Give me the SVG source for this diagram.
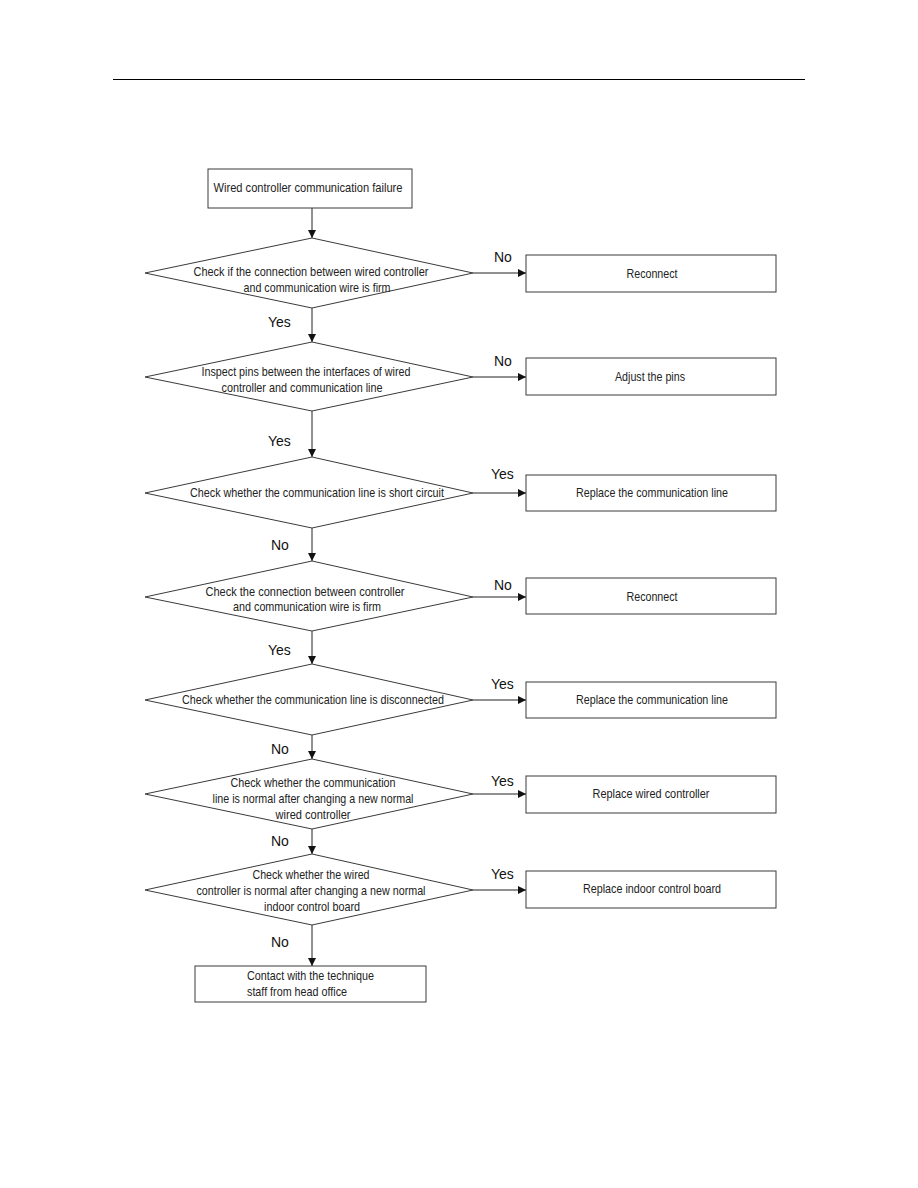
<svg xmlns="http://www.w3.org/2000/svg" width="918" height="1188" viewBox="0 0 918 1188">
<style>
.box{fill:#fff;stroke:#3a3a3a;stroke-width:1}
.dia{fill:#fff;stroke:#3a3a3a;stroke-width:1}
.t{font-family:"Liberation Sans",Arial,sans-serif;font-size:13.5px;fill:#222;text-anchor:middle}
.tl{font-family:"Liberation Sans",Arial,sans-serif;font-size:13.5px;fill:#222}
.lab{font-family:"Liberation Sans",Arial,sans-serif;font-size:14px;fill:#111}
.c{stroke:#222;stroke-width:1;fill:none;marker-end:url(#ah)}
</style>
<defs>
<marker id="ah" viewBox="0 0 10 10" refX="10" refY="5" markerWidth="9" markerHeight="8" markerUnits="userSpaceOnUse" orient="auto">
<path d="M0,0 L10,5 L0,10 z" fill="#111"/>
</marker>
</defs>
<rect width="918" height="1188" fill="#fff"/>
<line x1="113" y1="79.5" x2="805" y2="79.5" stroke="#000" stroke-width="1.2"/>

<g id="connectors">
<line class="c" x1="312" y1="208" x2="312" y2="238"/>
<line class="c" x1="473" y1="273" x2="526" y2="273"/>
<line class="c" x1="312" y1="308" x2="312" y2="342"/>
<line class="c" x1="473" y1="377" x2="526" y2="377"/>
<line class="c" x1="312" y1="411" x2="312" y2="457"/>
<line class="c" x1="473" y1="493" x2="526" y2="493"/>
<line class="c" x1="312" y1="528" x2="312" y2="561"/>
<line class="c" x1="473" y1="597" x2="526" y2="597"/>
<line class="c" x1="312" y1="631" x2="312" y2="664"/>
<line class="c" x1="473" y1="700" x2="526" y2="700"/>
<line class="c" x1="312" y1="735" x2="312" y2="759"/>
<line class="c" x1="473" y1="794" x2="526" y2="794"/>
<line class="c" x1="312" y1="829" x2="312" y2="854"/>
<line class="c" x1="473" y1="890" x2="526" y2="890"/>
<line class="c" x1="312" y1="925" x2="312" y2="966"/>
<text class="lab" x="494" y="262">No</text>
<text class="lab" x="268" y="327">Yes</text>
<text class="lab" x="494" y="366">No</text>
<text class="lab" x="268" y="446">Yes</text>
<text class="lab" x="491" y="479">Yes</text>
<text class="lab" x="271" y="550">No</text>
<text class="lab" x="494" y="590">No</text>
<text class="lab" x="268" y="655">Yes</text>
<text class="lab" x="491" y="689">Yes</text>
<text class="lab" x="271" y="754">No</text>
<text class="lab" x="491" y="786">Yes</text>
<text class="lab" x="271" y="846">No</text>
<text class="lab" x="491" y="879">Yes</text>
<text class="lab" x="271" y="947">No</text>
</g>

<g id="start">
<rect class="box" x="208" y="169" width="204" height="39"/>
<text class="t" x="308" y="192" textLength="189" lengthAdjust="spacingAndGlyphs">Wired  controller  communication failure</text>
</g>

<g id="d1">
<polygon class="dia" points="145,273 312,238 473,273 312,308"/>
<text class="t" x="311" y="276" textLength="235" lengthAdjust="spacingAndGlyphs">Check  if the connection between wired controller</text>
<text class="t" x="317" y="292" textLength="147" lengthAdjust="spacingAndGlyphs">and communication wire is firm</text>
</g>
<g id="r1">
<rect class="box" x="526" y="255" width="250" height="37"/>
<text class="t" x="652" y="278" textLength="51" lengthAdjust="spacingAndGlyphs">Reconnect</text>
</g>

<g id="d2">
<polygon class="dia" points="145,377 312,342 473,377 312,411"/>
<text class="t" x="306" y="376" textLength="209" lengthAdjust="spacingAndGlyphs">Inspect pins between the interfaces of wired</text>
<text class="t" x="302" y="392" textLength="161" lengthAdjust="spacingAndGlyphs">controller and communication line</text>
</g>
<g id="r2">
<rect class="box" x="526" y="358" width="250" height="37"/>
<text class="t" x="650" y="381" textLength="70" lengthAdjust="spacingAndGlyphs">Adjust the pins</text>
</g>

<g id="d3">
<polygon class="dia" points="145,493 312,457 473,493 312,528"/>
<text class="t" x="317" y="497" textLength="254" lengthAdjust="spacingAndGlyphs">Check whether the communication line is short circuit</text>
</g>
<g id="r3">
<rect class="box" x="526" y="475" width="250" height="36"/>
<text class="t" x="652" y="497" textLength="152" lengthAdjust="spacingAndGlyphs">Replace the communication line</text>
</g>

<g id="d4">
<polygon class="dia" points="145,597 312,561 473,597 312,631"/>
<text class="t" x="305" y="596" textLength="199" lengthAdjust="spacingAndGlyphs">Check  the connection between controller</text>
<text class="t" x="307" y="611" textLength="148" lengthAdjust="spacingAndGlyphs">and communication wire is firm</text>
</g>
<g id="r4">
<rect class="box" x="526" y="578" width="250" height="36"/>
<text class="t" x="652" y="601" textLength="51" lengthAdjust="spacingAndGlyphs">Reconnect</text>
</g>

<g id="d5">
<polygon class="dia" points="145,700 312,664 473,700 312,735"/>
<text class="t" x="313" y="704" textLength="262" lengthAdjust="spacingAndGlyphs">Check whether the communication line is disconnected</text>
</g>
<g id="r5">
<rect class="box" x="526" y="682" width="250" height="36"/>
<text class="t" x="652" y="704" textLength="152" lengthAdjust="spacingAndGlyphs">Replace the communication line</text>
</g>

<g id="d6">
<polygon class="dia" points="145,794 312,759 473,794 312,829"/>
<text class="t" x="313" y="787" textLength="165" lengthAdjust="spacingAndGlyphs">Check whether the communication</text>
<text class="t" x="313" y="803" textLength="201" lengthAdjust="spacingAndGlyphs">line is normal after changing a new normal</text>
<text class="t" x="313" y="819" textLength="75" lengthAdjust="spacingAndGlyphs">wired controller</text>
</g>
<g id="r6">
<rect class="box" x="526" y="776" width="250" height="37"/>
<text class="t" x="651" y="798" textLength="117" lengthAdjust="spacingAndGlyphs">Replace wired controller</text>
</g>

<g id="d7">
<polygon class="dia" points="145,890 312,854 473,890 312,925"/>
<text class="t" x="311" y="879" textLength="117" lengthAdjust="spacingAndGlyphs">Check whether the wired</text>
<text class="t" x="311" y="895" textLength="229" lengthAdjust="spacingAndGlyphs">controller is normal after changing a new normal</text>
<text class="t" x="312" y="911" textLength="96" lengthAdjust="spacingAndGlyphs">indoor control board</text>
</g>
<g id="r7">
<rect class="box" x="526" y="871" width="250" height="37"/>
<text class="t" x="652" y="893" textLength="138" lengthAdjust="spacingAndGlyphs">Replace indoor control board</text>
</g>

<g id="end">
<rect class="box" x="195" y="966" width="231" height="36"/>
<text class="tl" x="247" y="980" textLength="127" lengthAdjust="spacingAndGlyphs">Contact with the technique</text>
<text class="tl" x="247" y="996" textLength="100" lengthAdjust="spacingAndGlyphs">staff from head office</text>
</g>
</svg>
